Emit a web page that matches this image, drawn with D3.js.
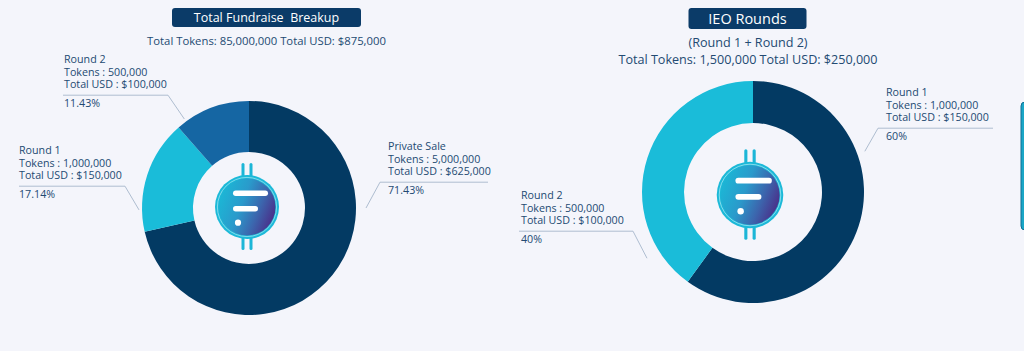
<!DOCTYPE html>
<html>
<head>
<meta charset="utf-8">
<script src="https://cdn.jsdelivr.net/npm/d3@7"></script>
<style>
  html, body { margin: 0; padding: 0; background: #f4f5fb; }
  svg { display: block; }
  text { font-family: "Open Sans", "DejaVu Sans", sans-serif; white-space: pre; }
</style>
</head>
<body>
<svg id="chart" width="1024" height="351"></svg>
<script>
// ---------- DATA ----------
const fundraiseTitle = "Total Fundraise  Breakup";
const fundraiseSubtitle = ["Total Tokens: 85,000,000 Total USD: $875,000"];
const fundraiseLabels = ["Private Sale", "Round 1", "Round 2"];
const fundraiseTokens = ["5,000,000", "1,000,000", "500,000"];
const fundraiseUSD = [625000, 150000, 100000];
const fundraisePct = ["71.43%", "17.14%", "11.43%"];

const ieoTitle = "IEO Rounds";
const ieoSubtitle = ["(Round 1 + Round 2)", "Total Tokens: 1,500,000 Total USD: $250,000"];
const ieoLabels = ["Round 1", "Round 2"];
const ieoTokens = ["1,000,000", "500,000"];
const ieoUSD = [150000, 100000];
const ieoPct = ["60%", "40%"];

// ---------- STYLE ----------
const navy = "#033a63";
const cyan = "#1abcd9";
const midBlue = "#1566a3";
const textColor = "#234a72";
const lineColor = "#aebdd0";

const svg = d3.select("#chart");
const defs = svg.append("defs");
const grad = defs.append("linearGradient").attr("id", "coinGrad")
  .attr("x1", "0%").attr("y1", "30%").attr("x2", "100%").attr("y2", "70%");
grad.append("stop").attr("offset", "0%").attr("stop-color", "#1bb8d6");
grad.append("stop").attr("offset", "40%").attr("stop-color", "#2a9acb");
grad.append("stop").attr("offset", "70%").attr("stop-color", "#3c65ad");
grad.append("stop").attr("offset", "100%").attr("stop-color", "#4b2a86");

const fmtUSD = v => "$" + d3.format(",")(v);

function titleBox(cx, y, w, h, text, fs) {
  svg.append("rect").attr("x", cx - w / 2).attr("y", y).attr("width", w).attr("height", h)
    .attr("rx", 3).attr("fill", "#0b3b68");
  svg.append("text").attr("x", cx).attr("y", y + h / 2).attr("dy", "0.36em")
    .attr("text-anchor", "middle").attr("fill", "#ffffff").attr("font-size", fs)
    .attr("font-weight", 500).text(text);
}

function subtitle(cx, y0, lines, fs, lh) {
  lines.forEach((t, i) => {
    svg.append("text").attr("x", cx).attr("y", y0 + i * lh)
      .attr("text-anchor", "middle").attr("fill", textColor).attr("font-size", fs)
      .attr("font-weight", 500).text(t);
  });
}

function coin(cx, cy, s) {
  const g = svg.append("g").attr("transform", `translate(${cx},${cy}) scale(${s})`);
  const prong = "#1cb6d7";
  [-5.5, 2.5].forEach(px => {
    g.append("rect").attr("x", px).attr("y", -44).attr("width", 3).attr("height", 14).attr("rx", 1.5).attr("fill", prong);
    g.append("rect").attr("x", px).attr("y", 30).attr("width", 3).attr("height", 13).attr("rx", 1.5).attr("fill", prong);
  });
  g.append("circle").attr("r", 32).attr("fill", "#1cb9d8");
  g.append("circle").attr("r", 28.5).attr("fill", "url(#coinGrad)");
  g.append("circle").attr("r", 29.6).attr("fill", "none").attr("stroke", "#9be3f0").attr("stroke-width", 0.8);
  g.append("rect").attr("x", -14).attr("y", -16.5).attr("width", 35).attr("height", 5.5).attr("rx", 2.75).attr("fill", "#fff");
  g.append("rect").attr("x", -14).attr("y", -1).attr("width", 25).attr("height", 5.5).attr("rx", 2.75).attr("fill", "#fff");
  g.append("circle").attr("cx", -9).attr("cy", 15.7).attr("r", 3.1).attr("fill", "#fff");
}

function donut(cx, cy, R, r, values, colors) {
  const pie = d3.pie().sort(null).value(d => d).startAngle(0).endAngle(2 * Math.PI);
  const arc = d3.arc().innerRadius(r).outerRadius(R);
  const g = svg.append("g").attr("transform", `translate(${cx},${cy})`);
  g.selectAll("path").data(pie(values)).join("path")
    .attr("d", arc).attr("fill", (d, i) => colors[i]);
  return arc;
}

// label: block with 3 lines, underline, pct; leader from underline end to target
function label(x, y, lines, pct, lineX0, lineX1, anchorSide, target) {
  const fs = 10.7, lh = 12.6;
  const g = svg.append("g");
  lines.forEach((t, i) => {
    g.append("text").attr("x", x).attr("y", y + i * lh).attr("fill", textColor)
      .attr("font-size", fs).attr("font-weight", 500).text(t);
  });
  const ly = y + 2 * lh + 7;
  g.append("text").attr("x", x).attr("y", ly + 12).attr("fill", textColor)
    .attr("font-size", fs).attr("font-weight", 500).text(pct);
  const sx = anchorSide === "right" ? lineX1 : lineX0;
  g.append("path").attr("d", `M${lineX0},${ly}L${lineX1},${ly}M${sx},${ly}L${target[0]},${target[1]}`)
    .attr("fill", "none").attr("stroke", lineColor).attr("stroke-width", 1);
}

function polar(cx, cy, rad, deg) {
  const a = deg * Math.PI / 180;
  return [cx + rad * Math.sin(a), cy - rad * Math.cos(a)];
}

// ---------- LEFT: Total Fundraise ----------
const L = { cx: 249, cy: 208, R: 107, r: 56 };
titleBox(266.5, 8, 189, 19, fundraiseTitle, 12.5);
subtitle(266.5, 45, fundraiseSubtitle, 11.3, 17);
donut(L.cx, L.cy, L.R, L.r, fundraiseUSD, [navy, cyan, midBlue]);
coin(L.cx - 2, L.cy - 1, 1);

label(388, 150, [fundraiseLabels[0], "Tokens : " + fundraiseTokens[0], "Total USD : " + fmtUSD(fundraiseUSD[0])],
  fundraisePct[0], 380, 488, "left", polar(L.cx, L.cy, 117, 90));
label(19, 154, [fundraiseLabels[1], "Tokens : " + fundraiseTokens[1], "Total USD : " + fmtUSD(fundraiseUSD[1])],
  fundraisePct[1], 19, 125, "right", polar(L.cx, L.cy, 110, 269));
label(64, 63, [fundraiseLabels[2], "Tokens : " + fundraiseTokens[2], "Total USD : " + fmtUSD(fundraiseUSD[2])],
  fundraisePct[2], 63, 168, "right", polar(L.cx, L.cy, 110, 324));

// ---------- RIGHT: IEO Rounds ----------
const Rr = { cx: 753, cy: 192, R: 111, r: 69 };
titleBox(747.5, 8, 118, 21, ieoTitle, 14.5);
subtitle(748, 46.5, ieoSubtitle, 12.6, 17);
donut(Rr.cx, Rr.cy, Rr.R, Rr.r, ieoUSD, [navy, cyan]);
coin(Rr.cx - 3, Rr.cy + 3, 1.04);

label(886, 96, [ieoLabels[0], "Tokens : " + ieoTokens[0], "Total USD : " + fmtUSD(ieoUSD[0])],
  ieoPct[0], 878, 993, "left", polar(Rr.cx, Rr.cy, 119, 70));
label(521, 199, [ieoLabels[1], "Tokens : " + ieoTokens[1], "Total USD : " + fmtUSD(ieoUSD[1])],
  ieoPct[1], 519, 633, "right", polar(Rr.cx, Rr.cy, 125, 238));

// partial element at right edge
svg.append("rect").attr("x", 1021).attr("y", 102).attr("width", 12).attr("height", 128)
  .attr("rx", 4).attr("fill", "#1aa6c6").attr("stroke", "#0e6f95").attr("stroke-width", 1);
</script>
</body>
</html>
